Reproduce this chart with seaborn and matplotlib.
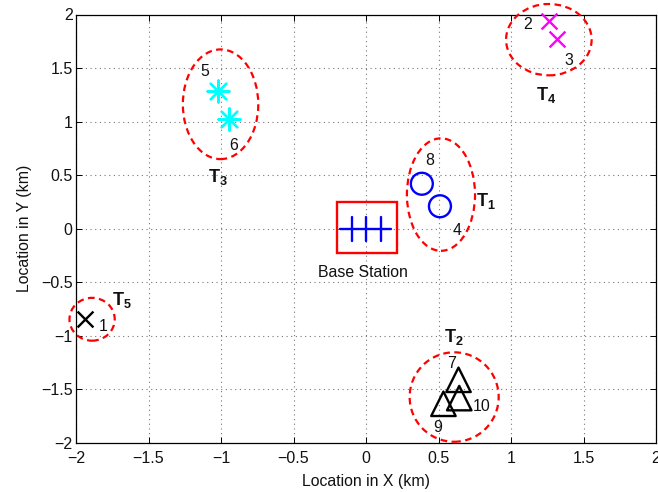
import numpy as np
import pandas as pd
import matplotlib.pyplot as plt
import seaborn as sns
from matplotlib.patches import Ellipse, Rectangle

sns.set_style("ticks")
plt.rcParams['font.family'] = ['Liberation Sans', 'DejaVu Sans']
plt.rcParams['mathtext.fontset'] = 'custom'
plt.rcParams['mathtext.bf'] = 'Liberation Sans:bold'
plt.rcParams['mathtext.rm'] = 'Liberation Sans'
plt.rcParams['text.color'] = '#111111'
plt.rcParams['axes.labelcolor'] = '#111111'
plt.rcParams['xtick.labelcolor'] = '#111111'
plt.rcParams['ytick.labelcolor'] = '#111111'

# users: id, x, y, cluster
user_ids = [1, 2, 3, 4, 5, 6, 7, 8, 9, 10]
user_x = [-1.935, 1.263, 1.32, 0.51, -1.022, -0.944, 0.638, 0.385, 0.534, 0.643]
user_y = [-0.846, 1.942, 1.774, 0.21, 1.288, 1.021, -1.41, 0.42, -1.634, -1.581]
user_group = ['T5', 'T4', 'T4', 'T1', 'T3', 'T3', 'T2', 'T1', 'T2', 'T2']

label_x = [-1.813, 1.114, 1.396, 0.629, -1.114, -0.915, 0.587, 0.438, 0.495, 0.80]
label_y = [-0.915, 1.911, 1.569, -0.012, 1.466, 0.781, -1.257, 0.641, -1.855, -1.655]

# clusters: centre x, centre y, width, height
ell_x = [0.517, 0.608, -1.003, 1.261, -1.889]
ell_y = [0.319, -1.571, 1.162, 1.765, -0.845]
ell_w = [0.47, 0.614, 0.52, 0.59, 0.312]
ell_h = [1.05, 0.835, 1.024, 0.666, 0.40]

team_names = [r'$\mathbf{T_1}$', r'$\mathbf{T_2}$', r'$\mathbf{T_3}$', r'$\mathbf{T_4}$', r'$\mathbf{T_5}$']
team_x = [0.828, 0.605, -1.018, 1.245, -1.682]
team_y = [0.261, -1.008, 0.48, 1.248, -0.666]

xticks = [-2, -1.5, -1, -0.5, 0, 0.5, 1, 1.5, 2]
yticks = [-2, -1.5, -1, -0.5, 0, 0.5, 1, 1.5, 2]
xticklabels = ['\u22122', '\u22121.5', '\u22121', '\u22120.5', '0', '0.5', '1', '1.5', '2']
yticklabels = ['\u22122', '\u22121.5', '\u22121', '\u22120.5', '0', '0.5', '1', '1.5', '2']

df = pd.DataFrame({'x': user_x, 'y': user_y, 'group': user_group})

fig = plt.figure(figsize=(6.58, 4.92), dpi=100)
ax = fig.add_axes([76 / 658, 1 - 443 / 492, (656 - 76) / 658, (443 - 14.5) / 492])

# one call per cluster, seaborn won't mix filled and line markers in one style map
styles = {'T1': ('#0000ff', 'o', 250), 'T2': ('black', '^', 310), 'T3': ('cyan', (8, 2, 0), 250),
          'T4': ('magenta', 'x', 130), 'T5': ('black', 'x', 130)}
for g, (col, mk, sz) in styles.items():
    sub = df[df['group'] == g]
    if mk in ('o', '^'):
        sns.scatterplot(data=sub, x='x', y='y', marker=mk, s=sz, facecolor='none',
                        edgecolor=col, linewidth=1.7, ax=ax, zorder=3, legend=False, clip_on=False)
    else:
        sns.scatterplot(data=sub, x='x', y='y', marker=mk, s=sz, color=col,
                        linewidth=1.7, ax=ax, zorder=3, legend=False, clip_on=False)

for x, y, w, h in zip(ell_x, ell_y, ell_w, ell_h):
    ax.add_patch(Ellipse((x, y), w, h, fill=False, ec='red', ls=(0, (3, 2)), lw=1.6,
                         clip_on=False, zorder=4))

# base station
ax.add_patch(Rectangle((-0.203, -0.231), 0.417, 0.477, fill=False, ec='red', lw=1.7))
ax.plot([-0.18, 0.175], [0, 0], color='#0000ff', lw=1.7)
for bx in [-0.10, 0, 0.10]:
    ax.plot([bx, bx], [-0.11, 0.11], color='#0000ff', lw=1.7)
ax.text(-0.02, -0.41, 'Base Station', ha='center', va='center', fontsize=11.4)

for i, lx, ly in zip(user_ids, label_x, label_y):
    ax.text(lx, ly, str(i), ha='center', va='center', fontsize=11.4)
for name, tx, ty in zip(team_names, team_x, team_y):
    ax.text(tx, ty, name, ha='center', va='center', fontsize=13)

ax.set_xlim(-2, 2)
ax.set_ylim(-2, 2)
ax.set_xticks(xticks)
ax.set_yticks(yticks)
ax.set_xticklabels(xticklabels, fontsize=11.5)
ax.set_yticklabels(yticklabels, fontsize=11.5)
ax.set_xlabel('Location in X (km)', fontsize=11.4, labelpad=6)
ax.set_ylabel('Location in Y (km)', fontsize=11.4, labelpad=6.5)
ax.grid(True, color='#777777', ls=(0, (1, 3.2)), lw=0.8)
ax.tick_params(direction='in', length=4, width=0.7, top=True, right=True, color='black')
ax.tick_params(axis='x', pad=5.5)
ax.tick_params(axis='y', pad=2.4)
for s in ax.spines.values():
    s.set_visible(True)
    s.set_linewidth(0.9)
    s.set_color('black')
ax.set_axisbelow(True)

fig.savefig('out.png', dpi=100)
